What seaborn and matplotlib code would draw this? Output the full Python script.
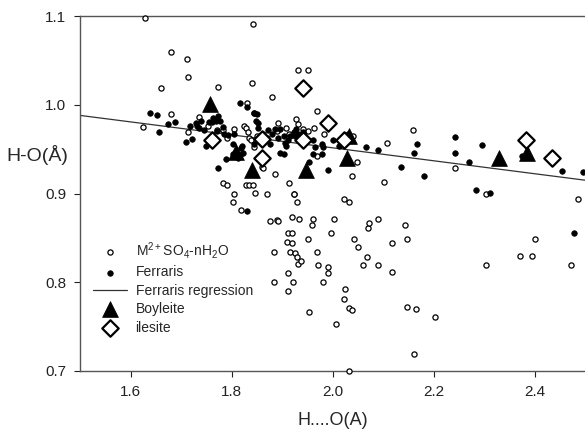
import numpy as np
import pandas as pd
import matplotlib
matplotlib.use('Agg')
import matplotlib.pyplot as plt
import seaborn as sns

# M2+SO4-nH2O (open circles)
sulf_x = [1.628, 1.842, 1.681, 1.711, 1.713, 1.661, 1.840, 1.774, 1.881, 1.624,
          1.681, 1.735, 1.844, 1.830, 1.931, 1.952, 1.970, 1.927, 1.931, 1.941,
          1.952, 1.964, 1.984, 1.970, 2.040, 2.048, 2.038, 2.107, 2.160, 2.101,
          2.242, 2.303, 2.487, 1.913, 1.923, 1.929, 2.022, 2.032, 1.754, 1.772,
          1.784, 1.792, 1.804, 1.824, 1.828, 1.832, 1.834, 1.838, 1.844, 1.851,
          1.869, 1.887, 1.893, 1.891, 1.907, 1.913, 1.861, 1.784, 1.792, 1.828,
          1.834, 1.842, 1.804, 1.846, 1.871, 1.802, 1.818, 1.891, 1.919, 1.713,
          1.877, 1.933, 1.911, 1.919, 1.909, 1.919, 1.885, 1.915, 1.925, 1.929,
          1.931, 1.937, 1.911, 1.921, 1.885, 1.911, 1.962, 1.960, 1.952, 1.970,
          1.972, 1.992, 1.992, 1.982, 1.954, 1.998, 2.002, 2.006, 2.024, 2.022,
          2.032, 2.038, 2.032, 2.042, 2.051, 2.061, 2.069, 2.071, 2.073, 2.091,
          2.091, 2.117, 2.117, 2.143, 2.147, 2.147, 2.166, 2.162, 2.202, 2.303,
          2.372, 2.396, 2.400, 2.473, 1.923, 1.863, 1.893]
sulf_y = [1.098, 1.091, 1.060, 1.051, 1.031, 1.019, 1.025, 1.020, 1.009, 0.975,
          0.990, 0.986, 0.991, 1.002, 1.039, 1.039, 0.993, 0.984, 0.978, 0.973,
          0.970, 0.974, 0.967, 0.942, 0.965, 0.936, 0.920, 0.957, 0.971, 0.913,
          0.929, 0.900, 0.894, 0.912, 0.900, 0.890, 0.894, 0.890, 0.976, 0.971,
          0.971, 0.962, 0.973, 0.976, 0.974, 0.969, 0.963, 0.960, 0.952, 0.965,
          0.960, 0.922, 0.979, 0.970, 0.974, 0.967, 0.930, 0.912, 0.910, 0.910,
          0.910, 0.910, 0.900, 0.901, 0.900, 0.890, 0.881, 0.870, 0.873, 0.969,
          0.869, 0.871, 0.855, 0.855, 0.845, 0.844, 0.834, 0.834, 0.833, 0.828,
          0.821, 0.824, 0.810, 0.800, 0.800, 0.790, 0.871, 0.865, 0.849, 0.834,
          0.820, 0.817, 0.810, 0.800, 0.767, 0.856, 0.871, 0.753, 0.792, 0.781,
          0.771, 0.769, 0.700, 0.849, 0.840, 0.820, 0.828, 0.861, 0.867, 0.871,
          0.820, 0.844, 0.812, 0.864, 0.849, 0.772, 0.770, 0.719, 0.761, 0.820,
          0.830, 0.830, 0.849, 0.820, 0.899, 0.929, 0.869]

# Ferraris (filled dots)
ferr_x = [1.638, 1.653, 1.657, 1.675, 1.689, 1.709, 1.717, 1.721, 1.731, 1.735,
          1.745, 1.750, 1.756, 1.762, 1.770, 1.774, 1.772, 1.778, 1.784, 1.786,
          1.790, 1.774, 1.794, 1.802, 1.802, 1.812, 1.816, 1.820, 1.830, 1.848,
          1.851, 1.844, 1.863, 1.873, 1.877, 1.893, 1.897, 1.903, 1.911, 1.915,
          1.923, 1.830, 1.897, 1.903, 1.907, 1.931, 1.941, 1.947, 1.962, 1.966,
          1.962, 1.980, 1.982, 1.980, 1.954, 1.992, 2.000, 2.012, 2.016, 2.030,
          2.067, 2.091, 2.135, 2.162, 2.168, 2.182, 2.242, 2.242, 2.271, 2.285,
          2.297, 2.311, 2.376, 2.455, 2.497, 2.479, 1.729, 1.739, 1.764, 1.804,
          1.818, 1.822, 1.816, 1.853, 1.857, 1.871, 1.881, 1.887, 1.905, 1.925,
          1.927, 2.026, 1.845, 1.853]
ferr_y = [0.991, 0.988, 0.969, 0.978, 0.981, 0.958, 0.976, 0.961, 0.976, 0.974,
          0.972, 0.954, 0.981, 0.981, 0.982, 0.987, 0.970, 0.982, 0.975, 0.967,
          0.939, 0.929, 0.966, 0.956, 0.944, 0.940, 1.002, 0.953, 0.998, 0.982,
          0.990, 0.956, 0.967, 0.971, 0.956, 0.962, 0.946, 0.945, 0.960, 0.965,
          0.969, 0.880, 0.973, 0.965, 0.953, 0.967, 0.969, 0.963, 0.960, 0.952,
          0.945, 0.956, 0.952, 0.944, 0.935, 0.927, 0.960, 0.954, 0.955, 0.967,
          0.952, 0.949, 0.930, 0.946, 0.956, 0.920, 0.964, 0.946, 0.935, 0.904,
          0.955, 0.901, 0.942, 0.925, 0.924, 0.855, 0.979, 0.982, 0.985, 0.967,
          0.951, 0.946, 0.943, 0.974, 0.965, 0.963, 0.967, 0.973, 0.957, 0.965,
          0.973, 0.957, 0.991, 0.980]

# Ferraris regression line
reg_x = [1.5, 2.5]
reg_y = [0.988, 0.915]

# Boyleite (filled triangles)
boy_x = [1.758, 1.808, 1.840, 1.948, 2.028, 2.032, 2.330, 2.385]
boy_y = [1.001, 0.947, 0.927, 0.926, 0.940, 0.965, 0.940, 0.946]

# ilesite (open diamonds)
ile_x = [1.762, 1.860, 1.860, 1.942, 1.992, 2.022, 1.942, 2.384, 2.435]
ile_y = [0.960, 0.961, 0.940, 1.019, 0.980, 0.960, 0.960, 0.960, 0.940]

sns.set_style('ticks')
plt.rcParams['font.family'] = ['Liberation Sans', 'DejaVu Sans']
plt.rcParams['mathtext.fontset'] = 'custom'
plt.rcParams['mathtext.rm'] = 'Liberation Sans'
plt.rcParams['mathtext.default'] = 'regular'

fig = plt.figure(figsize=(5.85, 4.29), dpi=100)
ax = fig.add_axes([80 / 585, 1 - 371 / 429, 505 / 585, 355 / 429])

sns.scatterplot(x=sulf_x, y=sulf_y, ax=ax, marker='o', s=14, color='white',
                edgecolor='black', linewidth=0.9, zorder=3, clip_on=False,
                label=r'M$^{2+}$SO$_4$-nH$_2$O')
sns.scatterplot(x=ferr_x, y=ferr_y, ax=ax, marker='o', s=16, color='black',
                edgecolor='black', linewidth=0.5, zorder=4, label='Ferraris')
sns.lineplot(x=reg_x, y=reg_y, ax=ax, color='#333333', linewidth=0.9,
             zorder=2, label='Ferraris regression')
sns.scatterplot(x=boy_x, y=boy_y, ax=ax, marker='^', s=130, color='black',
                edgecolor='black', linewidth=0.5, zorder=5, label='Boyleite')
sns.scatterplot(x=ile_x, y=ile_y, ax=ax, marker='D', s=70, color='white',
                edgecolor='black', linewidth=1.6, zorder=6, label='ilesite')

ax.set_xlim(1.5, 2.5)
ax.set_ylim(0.7, 1.1)
ax.set_xticks([1.6, 1.8, 2.0, 2.2, 2.4])
ax.set_yticks([0.7, 0.8, 0.9, 1.0, 1.1])
ax.set_xticklabels(['1.6', '1.8', '2.0', '2.2', '2.4'])
ax.set_yticklabels(['0.7', '0.8', '0.9', '1.0', '1.1'])
ax.tick_params(direction='out', length=4, width=0.8, labelsize=11,
               colors='#222222', pad=6)
for sp in ['left', 'bottom', 'top']:
    ax.spines[sp].set_visible(True)
    ax.spines[sp].set_color('#555555')
    ax.spines[sp].set_linewidth(1.0)
ax.spines['right'].set_visible(False)

ax.set_xlabel('H....O(A)', fontsize=13)
ax.set_ylabel('H-O(Å)', fontsize=14, rotation=0)
ax.xaxis.set_label_coords(0.50, -0.115)
ax.yaxis.set_label_coords(-0.085, 0.58)

ax.legend(loc='upper left', bbox_to_anchor=(0.0, 0.405), frameon=False,
          fontsize=10, handlelength=2.5, handletextpad=0.6, labelspacing=0.32,
          markerscale=1.0)

fig.savefig('out.png', dpi=100)
